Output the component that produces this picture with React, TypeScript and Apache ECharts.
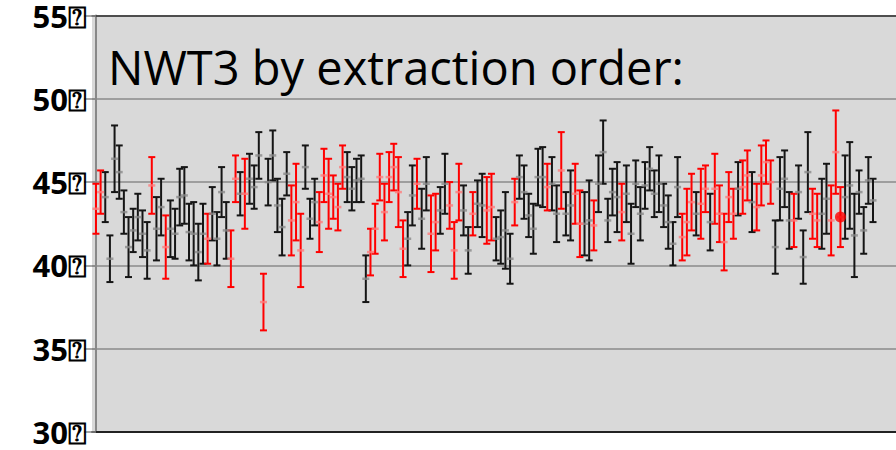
import React, { useEffect, useRef } from 'react';
import * as echarts from 'echarts';

const chartTitle = 'NWT3 by extraction order:';
const yTicks = [30, 35, 40, 45, 50, 55];
const tickSuffix = '⍰';

// measured value per sample (extraction order)
const values = [
  43.4, 44.4, 44.1, 40.4, 46.4, 45.6, 43.2, 41.1, 42.1, 42.9,
  41.9, 40.9, 44.8, 42.2, 43.5, 41.1, 42.2, 41.9, 44.1, 44.2,
  42.0, 41.9, 40.8, 41.9, 41.6, 43.1, 41.6, 44.4, 42.1, 40.4,
  45.2, 44.3, 44.3, 45.2, 44.7, 46.6, 37.8, 45.0, 46.6, 43.6,
  42.3, 45.5, 42.7, 43.8, 40.9, 45.9, 42.8, 43.8, 42.6, 45.4,
  44.3, 44.1, 43.5, 45.9, 45.3, 44.6, 45.1, 45.2, 39.2, 40.8,
  42.2, 45.3, 43.2, 45.3, 45.9, 44.4, 41.0, 41.6, 44.2, 44.9,
  42.8, 44.9, 41.9, 42.6, 43.3, 44.9, 43.6, 40.9, 44.4, 43.3,
  40.9, 43.1, 43.7, 43.6, 43.3, 43.5, 41.6, 41.7, 42.1, 40.4,
  43.8, 45.3, 44.4, 43.0, 42.2, 45.3, 45.3, 44.7, 44.9, 43.1,
  45.7, 43.1, 43.6, 44.3, 42.5, 42.5, 42.7, 42.4, 44.9, 46.8,
  42.7, 44.4, 44.1, 43.2, 44.3, 41.9, 44.9, 43.1, 44.8, 45.8,
  44.3, 44.9, 43.6, 42.6, 41.3, 44.7, 41.7, 42.6, 43.8, 43.1,
  43.7, 44.6, 42.6, 44.6, 43.1, 41.4, 44.1, 43.1, 44.6, 44.7,
  45.4, 43.8, 43.5, 45.4, 46.2, 45.0, 41.1, 44.6, 45.2, 42.7,
  42.7, 44.4, 40.5, 45.6, 43.1, 42.7, 43.1, 44.0, 42.7, 46.8,
  42.9, 44.1, 44.8, 41.8, 44.4, 42.1, 45.1, 43.9,
];

// error (half-length of the bar)
const errors = [
  1.5, 1.3, 1.5, 1.4, 2.0, 1.6, 1.3, 1.8, 1.3, 1.4,
  1.4, 1.7, 1.7, 1.9, 1.7, 1.9, 1.7, 1.5, 1.7, 1.7,
  1.7, 1.9, 1.7, 1.8, 1.5, 1.6, 1.6, 1.5, 1.7, 1.7,
  1.4, 1.3, 2.1, 1.5, 1.3, 1.4, 1.7, 1.4, 1.5, 1.6,
  1.7, 1.3, 2.1, 2.3, 2.2, 1.3, 1.2, 1.4, 1.8, 1.6,
  2.1, 1.3, 1.4, 1.3, 1.5, 1.3, 1.3, 1.4, 1.4, 1.4,
  1.5, 1.4, 1.7, 1.5, 1.4, 2.1, 1.7, 1.6, 1.8, 1.5,
  1.8, 1.6, 2.3, 1.7, 1.4, 1.8, 1.4, 1.7, 1.7, 1.5,
  1.4, 1.3, 1.4, 1.9, 2.0, 2.0, 1.3, 1.6, 2.3, 1.5,
  1.4, 1.3, 1.6, 1.3, 1.5, 1.7, 1.8, 1.4, 1.6, 1.7,
  2.3, 1.3, 2.1, 1.8, 2.0, 1.9, 2.4, 1.5, 1.7, 1.9,
  1.3, 1.4, 2.1, 1.7, 1.7, 1.8, 1.4, 1.6, 1.4, 1.3,
  1.4, 1.7, 1.3, 1.6, 1.3, 1.8, 1.4, 2.0, 1.7, 1.3,
  2.1, 1.4, 1.7, 2.1, 1.7, 1.7, 1.5, 1.5, 1.6, 1.6,
  1.5, 1.8, 1.4, 1.8, 1.3, 1.3, 1.6, 1.9, 1.7, 1.7,
  1.6, 1.6, 1.6, 2.4, 1.5, 1.6, 2.1, 2.1, 2.1, 2.5,
  1.8, 2.5, 2.6, 2.5, 1.3, 1.4, 1.4, 1.3,
];

// group of each sample: r = red, k = black
const groups = [
  'r','r','k','k','k','k','k','k','k','k',
  'k','k','r','k','k','r','k','k','k','k',
  'k','k','k','k','r','k','k','k','k','r',
  'r','k','r','k','k','k','r','k','k','k',
  'k','k','r','r','r','k','k','k','r','r',
  'r','r','r','r','k','k','k','k','k','r',
  'r','r','r','r','r','r','r','k','k','r',
  'k','k','r','r','k','k','r','r','r','k',
  'k','r','k','k','r','r','k','k','k','k',
  'r','k','k','k','k','k','k','r','k','k',
  'r','k','k','r','r','k','k','r','k','k',
  'k','k','k','r','k','k','k','k','k','k',
  'k','k','k','k','k','k','r','r','r','k',
  'r','r','k','r','r','r','r','r','k','r',
  'r','k','r','r','r','r','k','k','k','k',
  'r','k','k','k','r','r','k','k','r','r',
  'r','k','k','k','k','k','k','k',
];

const highlighted = [160];

const RED = '#ff0000';
const BLACK = '#151515';

function buildRows(g: string) {
  const rows: number[][] = [];
  values.forEach((v, i) => {
    if (groups[i] === g) rows.push([i, v, v - errors[i], v + errors[i]]);
  });
  return rows;
}

function makeRender(color: string) {
  return (params: any, api: any) => {
    const x = api.value(0);
    const top = api.coord([x, api.value(3)]);
    const bot = api.coord([x, api.value(2)]);
    const hw = 3.5;
    const style = { stroke: color, lineWidth: 2 };
    return {
      type: 'group',
      children: [
        { type: 'line', shape: { x1: top[0], y1: top[1], x2: bot[0], y2: bot[1] }, style },
        { type: 'line', shape: { x1: top[0] - hw, y1: top[1], x2: top[0] + hw, y2: top[1] }, style },
        { type: 'line', shape: { x1: bot[0] - hw, y1: bot[1], x2: bot[0] + hw, y2: bot[1] }, style },
      ],
    };
  };
}

export default function App() {
  const ref = useRef<HTMLDivElement>(null);
  useEffect(() => {
    if (!ref.current) return;
    const chart = echarts.init(ref.current, null, { renderer: 'svg' });
    const redRows = buildRows('r');
    const blackRows = buildRows('k');
    const step = 4.653;
    const xMin = -0.85;
    const xMax = xMin + 804 / step;
    chart.setOption({
      animation: false,
      backgroundColor: '#ffffff',
      title: {
        text: chartTitle,
        left: 103,
        top: 38,
        textStyle: { fontFamily: 'Open Sans', fontSize: 47, fontWeight: 'normal', color: '#000' },
      },
      grid: {
        left: 92, right: 0, top: 14, bottom: 18,
        show: true, backgroundColor: '#d9d9d9', borderWidth: 0,
      },
      xAxis: [
        {
          type: 'value', min: xMin, max: xMax, position: 'bottom',
          axisLine: { show: true, lineStyle: { color: '#222', width: 2 } },
          axisTick: { show: false }, axisLabel: { show: false }, splitLine: { show: false },
        },
        {
          type: 'value', min: xMin, max: xMax, position: 'top',
          axisLine: { show: true, lineStyle: { color: '#333', width: 1.5 } },
          axisTick: { show: false }, axisLabel: { show: false }, splitLine: { show: false },
        },
      ],
      yAxis: {
        type: 'value', min: yTicks[0], max: yTicks[yTicks.length - 1], interval: 5,
        axisLine: { show: true, lineStyle: { color: '#888', width: 2 } },
        axisTick: { show: true, length: 12, lineStyle: { color: '#888', width: 1.5 } },
        splitLine: { show: true, lineStyle: { color: '#8a8a8a', width: 1.5 } },
        axisLabel: {
          formatter: (v: number) => `${v}${tickSuffix}`,
          fontFamily: 'Open Sans', fontWeight: 'bold', fontSize: 31, color: '#000',
          lineHeight: 24, margin: 5, padding: [4, 0, 0, 0],
        },
      },
      series: [
        {
          type: 'custom', renderItem: makeRender(BLACK), data: blackRows,
          encode: { x: 0, y: [1, 2, 3] }, z: 2,
        },
        {
          type: 'custom', renderItem: makeRender(RED), data: redRows,
          encode: { x: 0, y: [1, 2, 3] }, z: 2,
        },
        {
          type: 'scatter', data: blackRows.map(r => [r[0], r[1]]),
          symbol: 'rect', symbolSize: [7, 2.5],
          itemStyle: { color: '#8a8a8a' }, z: 3,
        },
        {
          type: 'scatter', data: redRows.map(r => [r[0], r[1]]),
          symbol: 'rect', symbolSize: [7, 2.5],
          itemStyle: { color: '#ff7a7a' }, z: 3,
        },
        {
          type: 'scatter', data: highlighted.map(i => [i, values[i]]),
          symbol: 'circle', symbolSize: 11,
          itemStyle: { color: RED }, z: 4,
        },
      ],
    });
    return () => chart.dispose();
  }, []);
  return <div ref={ref} style={{ position: 'fixed', left: 0, top: 0, width: 896, height: 450 }} />;
}
